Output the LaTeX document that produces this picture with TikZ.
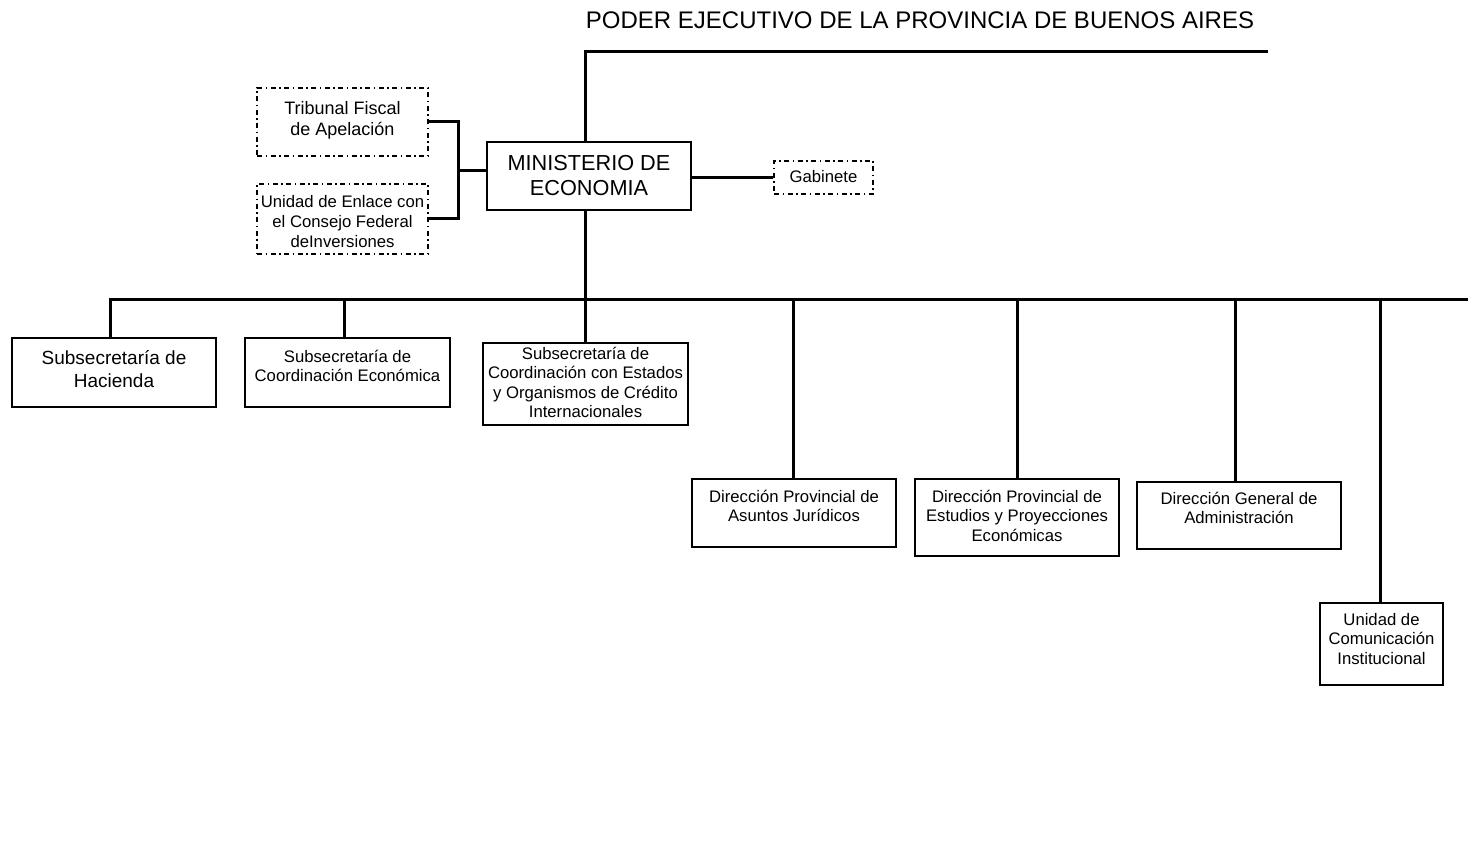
\documentclass[tikz,border=0pt]{standalone}
\usepackage{fontspec}
\setmainfont{Liberation Sans}
\usetikzlibrary{positioning}

% text block of an org unit: height, width, first baseline, lines
\newcommand{\unitlabel}[4]{\parbox[c][#1][t]{#2}{\centering\rule{0pt}{#3}#4\par}}

\begin{document}
\begin{tikzpicture}[x=1pt,y=-1pt]
\tikzset{unit/.style = {draw, line width=2.7pt, inner sep=0pt, font=\fontsize{16.7}{19.5}\selectfont}}
\tikzset{staff/.style = {unit, dash pattern=on 5pt off 3.5pt on 1.5pt off 3.5pt}}
\tikzset{edge/.style = {-, line width=3pt}}
\useasboundingbox (0,0) rectangle (1468,853);
% title
\node[font=\fontsize{24}{28}\selectfont] (poderT) at (920,20) {PODER EJECUTIVO DE LA PROVINCIA DE BUENOS AIRES};
\coordinate (eje) at (585,52);
\coordinate (poder) at (1268,52);
% units
\node[unit, font=\fontsize{21.7}{24.5}\selectfont] (ministerio) at (589,176)
  {\unitlabel{68pt}{204pt}{29pt}{MINISTERIO DE\\ECONOMIA}};
\node[staff, font=\fontsize{18}{21}\selectfont] (tribunal) at (342.5,122)
  {\unitlabel{68pt}{171pt}{27pt}{Tribunal Fiscal\\de Apelación}};
\node[staff] (enlace) at (342.5,219)
  {\unitlabel{70pt}{171pt}{24pt}{Unidad de Enlace con\\el Consejo Federal\\deInversiones}};
\node[staff] (gabinete) at (823.5,177.5)
  {\unitlabel{33pt}{99pt}{22pt}{Gabinete}};
\node[unit, font=\fontsize{19}{23}\selectfont] (hacienda) at (114,372.5)
  {\unitlabel{69pt}{204pt}{26pt}{Subsecretaría de\\Hacienda}};
\node[unit] (coordecon) at (347.5,372.5)
  {\unitlabel{69pt}{205pt}{24pt}{Subsecretaría de\\Coordinación Económica}};
\node[unit] (coordest) at (585.5,384)
  {\unitlabel{82pt}{205pt}{16pt}{Subsecretaría de\\Coordinación con Estados\\y Organismos de Crédito\\Internacionales}};
\node[unit] (asuntos) at (794,513)
  {\unitlabel{68pt}{204pt}{23pt}{Dirección Provincial de\\Asuntos Jurídicos}};
\node[unit] (estudios) at (1017,517.5)
  {\unitlabel{77pt}{204pt}{23pt}{Dirección Provincial de\\Estudios y Proyecciones\\Económicas}};
\node[unit] (admin) at (1239,515.5)
  {\unitlabel{67pt}{204pt}{22pt}{Dirección General de\\Administración}};
\node[unit] (comunic) at (1381.5,644)
  {\unitlabel{82pt}{123pt}{22pt}{Unidad de\\Comunicación\\Institucional}};
\coordinate (union) at (458,171);
\coordinate (busR) at (1468,300);
% edges
\draw[edge] (eje |- ministerio.north) -- (eje) -- (poder);
\draw[edge] (tribunal.east) -| (union) |- (enlace.east);
\draw[edge] (union) -- (union -| ministerio.west);
\draw[edge] (ministerio.east |- gabinete.west) -- (gabinete.west);
\draw[edge] (eje |- ministerio.south) -- (eje |- busR);
\draw[edge] ([xshift=-4pt]hacienda.north) |- (busR);
\foreach \n/\dx in {coordecon/-3.5,coordest/-0.5,asuntos/-1,estudios/0,admin/-4,comunic/-1.5}
  \draw[edge] ([xshift=\dx pt]\n.north) -- ([xshift=\dx pt]\n.north |- busR);
\end{tikzpicture}
\end{document}
